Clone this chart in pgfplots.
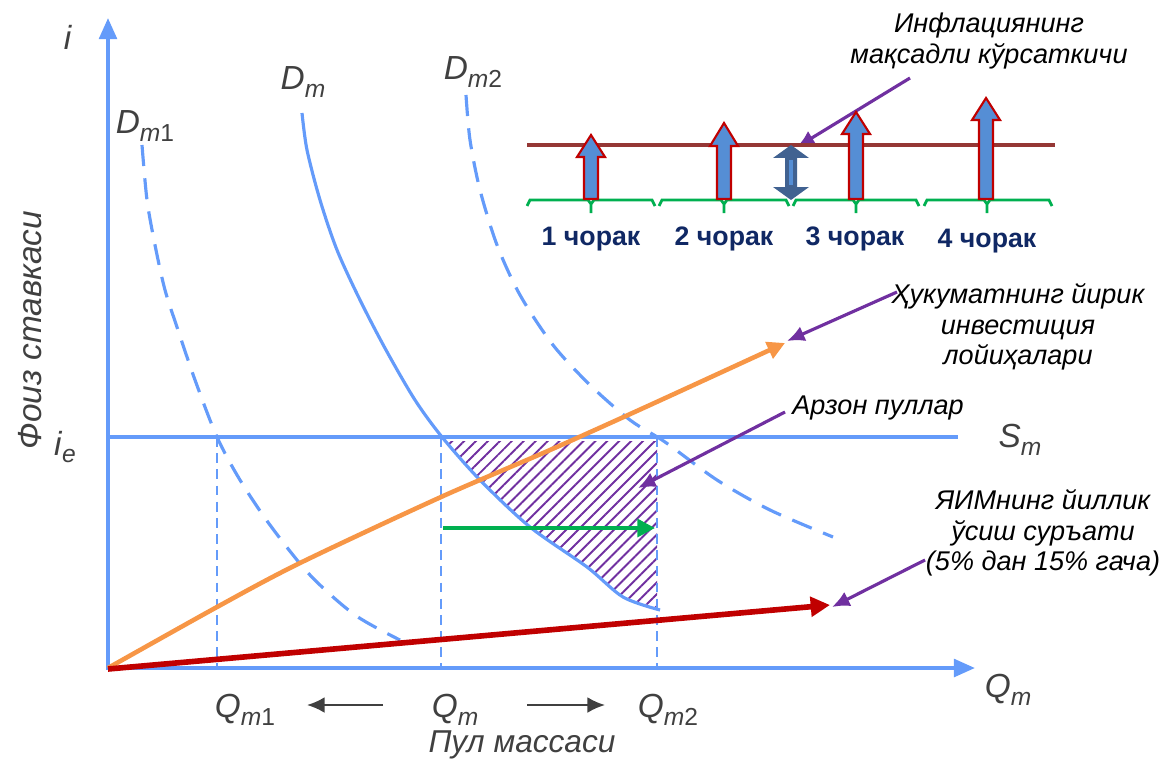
\documentclass[border=0pt]{standalone}
\usepackage{fontspec}
\setmainfont{Liberation Sans}
\usepackage{pgfplots}
\pgfplotsset{compat=1.18}
\usetikzlibrary{arrows.meta,patterns.meta}

\definecolor{axblue}{RGB}{100,155,250}
\definecolor{orng}{RGB}{247,150,70}
\definecolor{dred}{RGB}{192,0,0}
\definecolor{grn}{RGB}{0,176,80}
\definecolor{purp}{RGB}{112,48,160}
\definecolor{brwn}{RGB}{149,55,53}
\definecolor{blkfill}{RGB}{85,142,213}
\definecolor{dblue}{RGB}{65,98,145}
\definecolor{navy}{RGB}{16,40,100}
\definecolor{labgrey}{RGB}{64,64,64}

\newcommand{\sub}[1]{\raisebox{-0.45ex}{\fontsize{7}{8}\selectfont #1}}

\tikzset{
    lab/.style={font=\fontsize{9.5}{11}\selectfont, text=labgrey, inner sep=0pt},
    ann/.style={font=\fontsize{7.7}{8.7}\selectfont\itshape, align=center, inner sep=0pt},
    qtr/.style={font=\fontsize{7.6}{9}\selectfont\bfseries, text=navy, inner sep=0pt},
    parr/.style={purp, line width=0.9pt, -{Latex[length=5pt,width=4.5pt]}},
}

\begin{document}
\begin{tikzpicture}
\begin{axis}[
    width=11.62cm, height=7.62cm, scale only axis,
    xmin=0, xmax=1162, ymin=0, ymax=762,
    y dir=reverse,
    axis lines=none,
    clip=false,
]
% frame of the picture
\addplot[draw=none] coordinates {(0,0) (1162,762)};

% hatched area (cheap money)
\addplot[draw=none, pattern={Lines[angle=45,distance=2.4pt,line width=0.55pt]}, pattern color=purp]
  coordinates {(446,441) (657,441) (657,608) (623,597) (587,567) (530,527) (480,480) (446,441)} -- cycle;

% guide lines
\addplot[axblue, line width=0.45pt, dash pattern=on 2.8pt off 1.8pt] coordinates {(217,437) (217,668)};
\addplot[axblue, line width=0.45pt, dash pattern=on 2.8pt off 1.8pt] coordinates {(441,437) (441,668)};
\addplot[axblue, line width=0.45pt, dash pattern=on 2.8pt off 1.8pt] coordinates {(657,437) (657,668)};

% supply line S_m
\addplot[axblue, line width=0.9pt] coordinates {(110,437) (958,437)};

% demand curves
\addplot[axblue, line width=0.9pt, smooth, dash pattern=on 6pt off 3.5pt]
  coordinates {(142,145) (147,200) (155,245) (165,290) (178,330) (195,380) (217,437) (240,480) (270,525) (310,575) (355,615) (400,640)};
\addplot[axblue, line width=0.9pt, smooth]
  coordinates {(302,113) (307,150) (320,200) (337,250) (360,300) (386,350) (415,400) (442,437) (480,480) (530,527) (587,567) (623,597) (660,610)};
\addplot[axblue, line width=0.9pt, smooth, dash pattern=on 6pt off 3.5pt]
  coordinates {(466,95) (470,140) (480,190) (497,245) (520,295) (553,345) (590,385) (630,420) (665,442) (717,480) (770,510) (833,537)};

% axes
\addplot[axblue, line width=1.1pt, -{Triangle[length=6pt,width=5pt]}] coordinates {(108,670) (108,18)};
\addplot[axblue, line width=1.1pt, -{Triangle[length=6pt,width=5pt]}] coordinates {(106,668) (975,668)};

% investment projects and GDP growth
\addplot[orng, line width=1.3pt, smooth, -{Triangle[length=5pt,width=5pt]}]
  coordinates {(108,668) (217,607) (300,563) (441,497) (550,450) (650,405) (785,343)};
\addplot[dred, line width=1.6pt, -{Triangle[length=5.5pt,width=5.5pt]}]
  coordinates {(108,669) (830,605)};

% money supply shift
\addplot[grn, line width=1.2pt, -{Triangle[length=5pt,width=5pt]}] coordinates {(443,528) (655,528)};

% pointers
\addplot[parr] coordinates {(910,78) (797,147)};
\addplot[parr] coordinates {(897,292) (787,341)};
\addplot[parr] coordinates {(785,412) (638,488)};
\addplot[parr] coordinates {(925,560) (832,607)};

% small arrows under the x axis
\addplot[labgrey, line width=0.6pt, -{Latex[length=5pt,width=4.5pt]}] coordinates {(383,705) (307,705)};
\addplot[labgrey, line width=0.6pt, -{Latex[length=5pt,width=4.5pt]}] coordinates {(527,705) (605,705)};

% inset: inflation target and quarters
\addplot[brwn, line width=0.9pt] coordinates {(527,145) (1055,145)};
\addplot[grn, line width=0.8pt] coordinates {(527,206) (530,200) (588,200) (591,204) (591,213) (591,204) (594,200) (652,200) (655,206)};
\addplot[grn, line width=0.8pt] coordinates {(659,206) (662,200) (721,200) (724,204) (724,213) (724,204) (727,200) (786,200) (789,206)};
\addplot[grn, line width=0.8pt] coordinates {(793,206) (796,200) (853,200) (856,204) (856,213) (856,204) (859,200) (916,200) (919,206)};
\addplot[grn, line width=0.8pt] coordinates {(924,206) (927,200) (984,200) (987,204) (987,213) (987,204) (990,200) (1049,200) (1052,206)};

\addplot[draw=dred, fill=blkfill, line width=0.6pt]
  coordinates {(584,199) (584,157) (577,157) (591,135) (605,157) (598,157) (598,199)} -- cycle;
\addplot[draw=dred, fill=blkfill, line width=0.6pt]
  coordinates {(717,199) (717,146) (710,146) (724,123) (738,146) (731,146) (731,199)} -- cycle;
\addplot[draw=dred, fill=blkfill, line width=0.6pt]
  coordinates {(849,199) (849,134) (842,134) (856,112) (870,134) (863,134) (863,199)} -- cycle;
\addplot[draw=dred, fill=blkfill, line width=0.6pt]
  coordinates {(979,199) (979,120) (972,120) (986,98) (1000,120) (993,120) (993,199)} -- cycle;

\addplot[draw=none, fill=dblue]
  coordinates {(791,145) (809,158) (797,158) (797,187) (809,187) (791,200) (773,187) (785,187) (785,158) (773,158)} -- cycle;
\addplot[blkfill, line width=1.2pt] coordinates {(791,160) (791,185)};

% texts
\node[lab] at (axis cs:68,37) {\textit{i}};
\node[lab] at (axis cs:145,126) {\textit{D}\sub{\textit{m}1}};
\node[lab] at (axis cs:303,82) {\textit{D}\sub{\textit{m}}};
\node[lab] at (axis cs:473,72) {\textit{D}\sub{\textit{m}2}};
\node[lab] at (axis cs:65,447) {\textit{i}\sub{\textit{e}}};
\node[lab] at (axis cs:1020,440) {\textit{S}\sub{\textit{m}}};
\node[lab] at (axis cs:1008,690) {\textit{Q}\sub{\textit{m}}};
\node[lab] at (axis cs:245,710) {\textit{Q}\sub{\textit{m}1}};
\node[lab] at (axis cs:455,710) {\textit{Q}\sub{\textit{m}}};
\node[lab] at (axis cs:668,710) {\textit{Q}\sub{\textit{m}2}};
\node[lab, font=\fontsize{9}{11}\selectfont] at (axis cs:522,745) {\textit{Пул массаси}};
\node[lab, rotate=90] at (axis cs:30,330) {\textit{Фоиз ставкаси}};

\node[ann] at (axis cs:989,41) {Инфлациянинг\\мақсадли кўрсаткичи};
\node[ann] at (axis cs:1018,327) {Ҳукуматнинг йирик\\инвестиция\\лойиҳалари};
\node[ann] at (axis cs:878,408) {Арзон пуллар};
\node[ann] at (axis cs:1043,533) {ЯИМнинг йиллик\\ўсиш суръати\\(5\% дан 15\% гача)};

\node[qtr] at (axis cs:591,239) {1 чорак};
\node[qtr] at (axis cs:724,239) {2 чорак};
\node[qtr] at (axis cs:855,239) {3 чорак};
\node[qtr] at (axis cs:987,241) {4 чорак};
\end{axis}
\pgfresetboundingbox
\useasboundingbox (current axis.south west) rectangle (current axis.north east);
\end{tikzpicture}
\end{document}
